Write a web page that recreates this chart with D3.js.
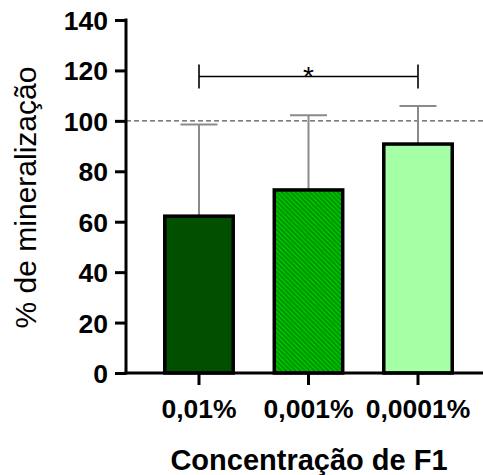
<!DOCTYPE html>
<html><head><meta charset="utf-8">
<script src="https://cdn.jsdelivr.net/npm/d3@7"></script>
<style>body{margin:0;background:#fff}svg{display:block}</style>
</head><body>
<script>
const categories = ["0,01%", "0,001%", "0,0001%"];
const means = [62.2, 72.6, 90.8];
const errors = [36.4, 29.6, 15.1];
const yTicks = [0, 20, 40, 60, 80, 100, 120, 140];
const fills = ["#005000", "#00bf00", "#a5ffa5"];
const refLine = 100;
const sig = {from: "0,01%", to: "0,0001%", y: 117.6, label: "*"};
const xTitle = "Concentração de F1";
const yTitle = "% de mineralização";

const W = 483, H = 475;
const svg = d3.select("body").append("svg").attr("width", W).attr("height", H);
const font = "'Liberation Sans', Arial, sans-serif";

const defs = svg.append("defs");
const pat = defs.append("pattern").attr("id", "hatch")
  .attr("patternUnits", "userSpaceOnUse").attr("width", 4.7).attr("height", 4.7);
pat.append("rect").attr("width", 4.7).attr("height", 4.7).attr("fill", fills[1]);
pat.append("path").attr("d", "M-1,-1 L5.7,5.7 M-1,3.7 L1,5.7 M3.7,-1 L5.7,1")
  .attr("stroke", "#007400").attr("stroke-width", 1);

const y = d3.scaleLinear().domain([0, 140]).range([373, 20]);
const x = d3.scaleBand().domain(categories).range([144.25, 472.75])
  .paddingInner(0.375).paddingOuter(0.1875);

// reference dashed line
svg.append("line").attr("x1", 126).attr("x2", 483)
  .attr("y1", y(refLine)).attr("y2", y(refLine))
  .attr("stroke", "#555").attr("stroke-width", 1.3).attr("stroke-dasharray", "5,3");

// error bars
const eg = svg.append("g").attr("stroke", "#8a8a8a").attr("stroke-width", 2);
categories.forEach((c, i) => {
  const cx = x(c) + x.bandwidth() / 2;
  eg.append("line").attr("x1", cx).attr("x2", cx).attr("y1", y(means[i])).attr("y2", y(means[i] + errors[i]));
  eg.append("line").attr("x1", cx - 18.5).attr("x2", cx + 18.5).attr("y1", y(means[i] + errors[i])).attr("y2", y(means[i] + errors[i]));
});

// bars
svg.append("g").selectAll("rect").data(categories).join("rect")
  .attr("x", d => x(d)).attr("width", x.bandwidth())
  .attr("y", (d, i) => y(means[i])).attr("height", (d, i) => y(0) - y(means[i]))
  .attr("fill", (d, i) => i === 1 ? "url(#hatch)" : fills[i])
  .attr("stroke", "#000").attr("stroke-width", 3.5);

// y axis
const ya = svg.append("g").attr("transform", "translate(126,0)")
  .call(d3.axisLeft(y).tickValues(yTicks).tickSize(11).tickSizeOuter(0).tickPadding(7));
ya.select(".domain").attr("stroke-width", 3).attr("d", `M0,${y(0) + 1.5}V${y(140) - 1.5}`);
ya.selectAll(".tick line").attr("stroke-width", 3);
ya.selectAll(".tick text").attr("font-family", font).attr("font-weight", "bold")
  .attr("font-size", 26.5).attr("fill", "#000").attr("dy", "0.36em");

// x axis
const xa = svg.append("g").attr("transform", `translate(0,${y(0)})`)
  .call(d3.axisBottom(x).tickSize(12).tickSizeOuter(0).tickPadding(14));
xa.select(".domain").attr("stroke-width", 3).attr("d", `M124.5,0H483`);
xa.selectAll(".tick line").attr("stroke-width", 3);
xa.selectAll(".tick text").attr("font-family", font).attr("font-weight", "bold")
  .attr("font-size", 26.5).attr("fill", "#000");

// significance bracket
const sx1 = x(sig.from) + x.bandwidth() / 2, sx2 = x(sig.to) + x.bandwidth() / 2, sy = y(sig.y);
const sg = svg.append("g").attr("stroke", "#000").attr("stroke-width", 1.6);
sg.append("line").attr("x1", sx1).attr("x2", sx2).attr("y1", sy).attr("y2", sy);
sg.append("line").attr("x1", sx1).attr("x2", sx1).attr("y1", sy - 12).attr("y2", sy + 12);
sg.append("line").attr("x1", sx2).attr("x2", sx2).attr("y1", sy - 12).attr("y2", sy + 12);
svg.append("text").attr("x", (sx1 + sx2) / 2).attr("y", sy + 10).attr("text-anchor", "middle")
  .attr("font-family", font).attr("font-size", 28).text(sig.label);

// titles
svg.append("text").attr("x", 309).attr("y", 470).attr("text-anchor", "middle")
  .attr("font-family", font).attr("font-weight", "bold").attr("font-size", 29).text(xTitle);
svg.append("text").attr("transform", "translate(36,197.5) rotate(-90)").attr("text-anchor", "middle")
  .attr("font-family", font).attr("font-size", 30).text(yTitle);
</script>
</body></html>
